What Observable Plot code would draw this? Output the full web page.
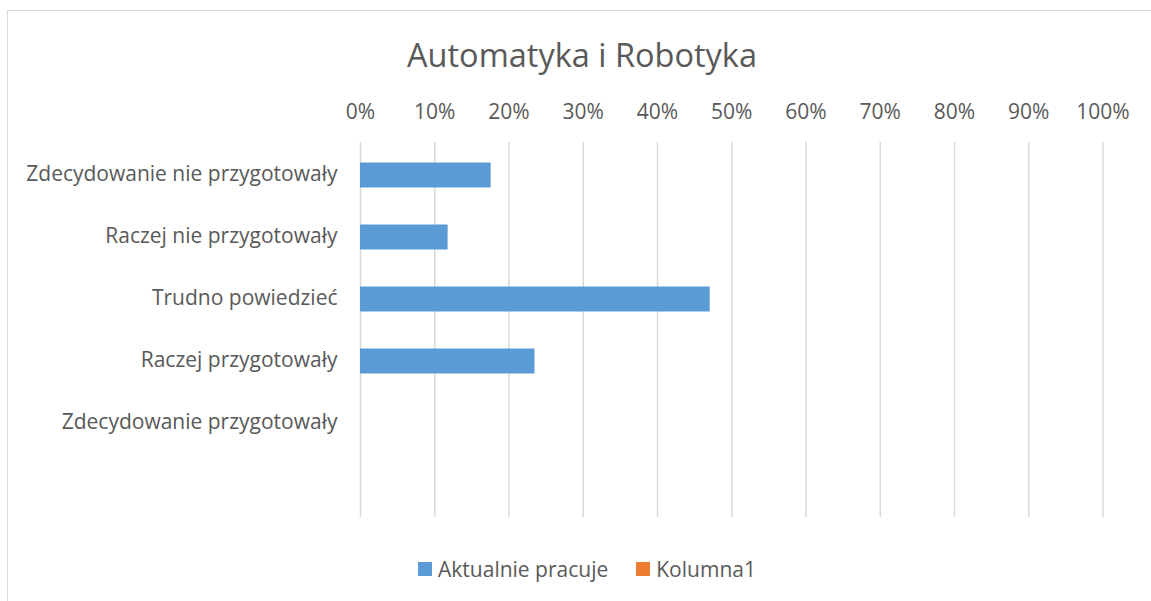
<!DOCTYPE html>
<html><head><meta charset="utf-8">
<script src="https://cdn.jsdelivr.net/npm/d3@7"></script>
<script src="https://cdn.jsdelivr.net/npm/@observablehq/plot@0.6"></script>
<style>
body{margin:0;background:#fff;font-family:"Open Sans",sans-serif;color:#595959}
#frame{position:relative;width:1151px;height:601px;overflow:hidden;background:#fff}
#border{position:absolute;left:7px;top:10px;width:1300px;height:800px;border:1.5px solid #d9d9d9;box-sizing:border-box}
#title{position:absolute;left:7px;width:1150px;text-align:center;top:33px;font-size:32.5px;line-height:44px;color:#595959}
#chart{position:absolute;left:0;top:90px}
#legend{position:absolute;top:555px;left:7px;width:1160px;display:flex;justify-content:center;align-items:center;font-size:21px;line-height:28px;color:#595959}
.item{display:flex;align-items:center;margin:0 14px}
.sw{width:14px;height:14px;margin-right:6px}
</style>
</head><body>
<div id="frame">
  <div id="border"></div>
  <div id="title"></div>
  <div id="chart"></div>
  <div id="legend"></div>
</div>
<script>
const title = "Automatyka i Robotyka";
const categories = ["Zdecydowanie nie przygotowały","Raczej nie przygotowały","Trudno powiedzieć","Raczej przygotowały","Zdecydowanie przygotowały"," "];
const aktualniePracuje = [0.176, 0.118, 0.471, 0.235, 0, null];
const seriesNames = ["Aktualnie pracuje","Kolumna1"];
const seriesColors = ["#5b9bd5","#ed7d31"];
const xTicks = [0,0.1,0.2,0.3,0.4,0.5,0.6,0.7,0.8,0.9,1];

document.getElementById("title").textContent = title;

const data = categories.map((c,i)=>({cat:c, value:aktualniePracuje[i]})).filter(d=>d.value!=null && d.value>0);

const chart = Plot.plot({
  width:1151, height:450,
  marginTop:52, marginBottom:23, marginLeft:360, marginRight:48.5,
  style:{fontFamily:"'Open Sans',sans-serif", fontSize:"21px", color:"#595959", background:"transparent"},
  x:{domain:[0,1], axis:null},
  y:{domain:categories, padding:0, axis:null},
  marks:[
    Plot.ruleX(xTicks,{x:d=>d, stroke:"#d9d9d9", strokeWidth:1.5}),
    Plot.barX(data,{y:"cat", x:"value", fill:seriesColors[0], insetTop:18.5, insetBottom:18.5}),
    Plot.axisX(xTicks,{anchor:"top", label:null, tickSize:0, tickPadding:24, tickFormat:d=>Math.round(d*100)+"%", fill:"#595959", fontSize:21}),
    Plot.axisY({anchor:"left", label:null, tickSize:0, tickPadding:23, fill:"#595959", fontSize:21, dy:-1})
  ]
});
document.getElementById("chart").appendChild(chart);

const leg = document.getElementById("legend");
seriesNames.forEach((n,i)=>{
  const it=document.createElement("div"); it.className="item";
  const sw=document.createElement("div"); sw.className="sw"; sw.style.background=seriesColors[i];
  const t=document.createElement("span"); t.textContent=n;
  it.appendChild(sw); it.appendChild(t); leg.appendChild(it);
});
</script>
</body></html>
